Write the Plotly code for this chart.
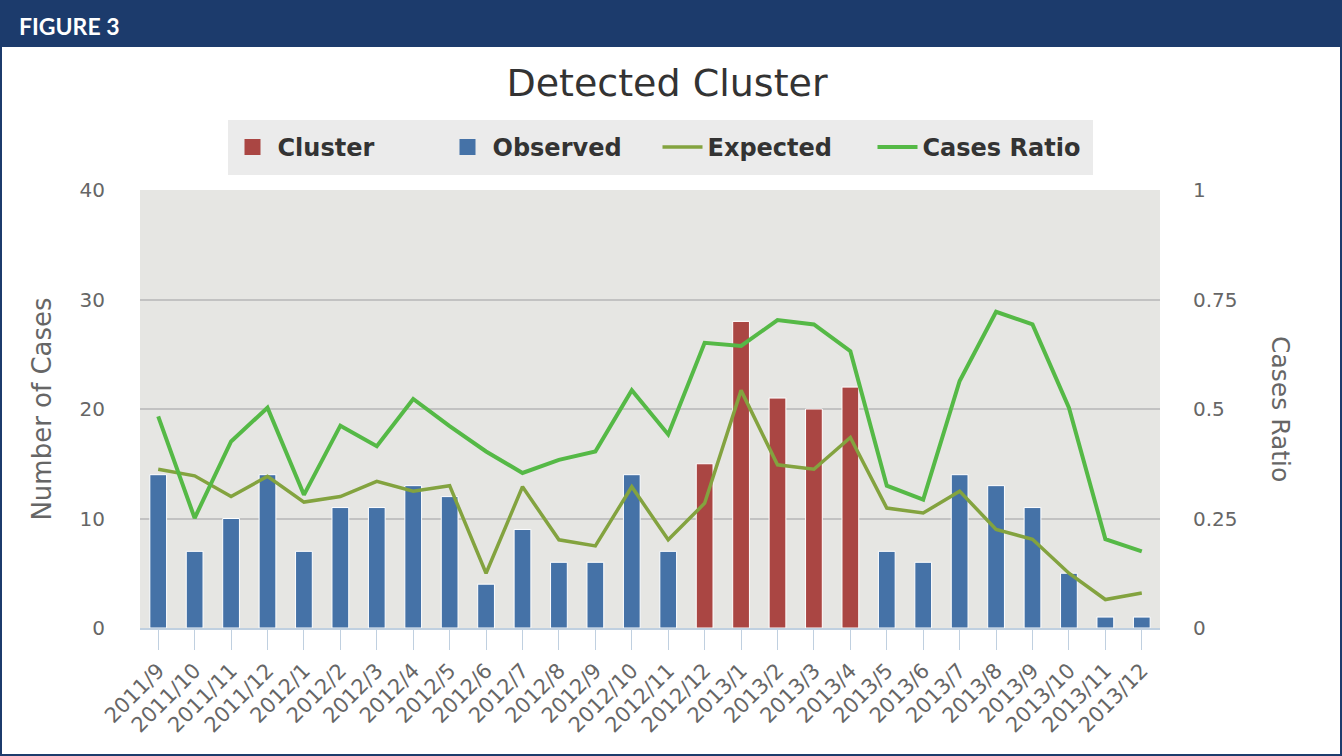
import plotly.graph_objects as go

months = ["2011/9", "2011/10", "2011/11", "2011/12", "2012/1", "2012/2", "2012/3",
          "2012/4", "2012/5", "2012/6", "2012/7", "2012/8", "2012/9", "2012/10",
          "2012/11", "2012/12", "2013/1", "2013/2", "2013/3", "2013/4", "2013/5",
          "2013/6", "2013/7", "2013/8", "2013/9", "2013/10", "2013/11", "2013/12"]

observed = [14, 7, 10, 14, 7, 11, 11, 13, 12, 4, 9, 6, 6, 14, 7,
            None, None, None, None, None, 7, 6, 14, 13, 11, 5, 1, 1]
cluster = [None] * 15 + [15, 28, 21, 20, 22] + [None] * 8
expected = [14.5, 13.9, 12.0, 13.85, 11.5, 12.0, 13.4, 12.5, 13.0, 5.0, 12.9,
            8.05, 7.5, 12.9, 8.05, 11.4, 21.7, 14.9, 14.5, 17.4, 10.95, 10.5,
            12.5, 9.0, 8.1, 5.0, 2.6, 3.2]
cases_ratio = [0.483, 0.251, 0.426, 0.503, 0.304, 0.462, 0.415, 0.523, 0.461,
               0.403, 0.354, 0.384, 0.403, 0.543, 0.442, 0.651, 0.644, 0.703,
               0.693, 0.632, 0.325, 0.293, 0.564, 0.722, 0.693, 0.503, 0.203,
               0.175]

W, H = 1342, 756
L, R, T, B = 140, 1160, 190, 628

def px_x(x):
    return (x - L) / (R - L)

def px_y(y):
    return (B - y) / (B - T)

FONT = "DejaVu Sans"
GREY = "#666666"
RED = "#AA4643"
BLUE = "#4572A7"
LEGEND_BG = "#EBEBEB"

fig = go.Figure()
fig.add_trace(go.Bar(name="Cluster", x=months, y=cluster, marker_color=RED,
                     marker_line=dict(color="white", width=1), width=0.46,
                     legendgroup="cluster", showlegend=False))
fig.add_trace(go.Bar(name="Observed", x=months, y=observed, marker_color=BLUE,
                     marker_line=dict(color="white", width=1), width=0.46,
                     legendgroup="observed", showlegend=False))
# legend entries for the bar series (larger square icons)
fig.add_trace(go.Scatter(name="Cluster", x=[None], y=[None], mode="markers",
                         marker=dict(symbol="square", size=16, color=RED),
                         legendgroup="cluster", hoverinfo="skip"))
fig.add_trace(go.Scatter(name="Observed", x=[None], y=[None], mode="markers",
                         marker=dict(symbol="square", size=16, color=BLUE),
                         legendgroup="observed", hoverinfo="skip"))
fig.add_trace(go.Scatter(name="Expected", x=months, y=expected, mode="lines",
                         line=dict(color="#83A33F", width=3.5)))
fig.add_trace(go.Scatter(name="Cases Ratio", x=months, y=cases_ratio, mode="lines",
                         yaxis="y2", line=dict(color="#55B946", width=4)))

shapes = [
    dict(type="rect", xref="paper", yref="paper", x0=px_x(0), x1=px_x(W),
         y0=px_y(47), y1=px_y(0), fillcolor="#1C3B6C", line=dict(width=0), layer="below"),
    dict(type="rect", xref="paper", yref="paper", x0=px_x(1), x1=px_x(W - 1),
         y0=px_y(H - 1), y1=px_y(1), line=dict(color="#1C3B6C", width=2),
         fillcolor="rgba(0,0,0,0)"),
]

annotations = [
    dict(text="<b>FIGURE 3</b>", x=px_x(17), y=px_y(26), xref="paper", yref="paper",
         xanchor="left", yanchor="middle", showarrow=False,
         font=dict(family="Lato", size=23, color="white")),
    dict(text="Cases Ratio", x=px_x(1281), y=0.5, xref="paper", yref="paper",
         xanchor="center", yanchor="middle", showarrow=False, textangle=90,
         font=dict(family=FONT, size=25, color=GREY)),
]

fig.update_layout(
    width=W, height=H,
    margin=dict(l=L, r=W - R, t=T, b=H - B),
    paper_bgcolor="white",
    plot_bgcolor="#E6E6E3",
    barmode="overlay",
    title=dict(text="Detected Cluster", x=px_x(667), xanchor="center", xref="paper",
               y=1 - 83 / H, yanchor="middle",
               font=dict(family=FONT, size=38, color="#333333")),
    legend=dict(orientation="h", x=px_x(660), xanchor="center", y=px_y(120), yanchor="top",
                bgcolor=LEGEND_BG, bordercolor=LEGEND_BG, borderwidth=5,
                font=dict(family=FONT, size=24, color="#333333", weight="bold"),
                itemwidth=40, entrywidth=160),
    xaxis=dict(type="category", tickangle=-45, showline=True, linecolor="#C0D0E0",
               linewidth=2, ticks="outside", ticklen=20, tickcolor="#C0D0E0",
               tickfont=dict(family=FONT, size=21, color=GREY), showgrid=False,
               range=[-0.5, 27.5]),
    yaxis=dict(range=[0, 40], dtick=10, showgrid=True, gridcolor="#C2C2C2", gridwidth=2,
               zeroline=False, tickfont=dict(family=FONT, size=20, color=GREY),
               ticklabelstandoff=34,
               title=dict(text="Number of Cases", font=dict(family=FONT, size=26, color=GREY),
                          standoff=20)),
    yaxis2=dict(range=[0, 1], dtick=0.25, overlaying="y", side="right", showgrid=False,
                zeroline=False, tickfont=dict(family=FONT, size=20, color=GREY),
                ticklabelstandoff=32, tickformat="~g"),
    shapes=shapes,
    annotations=annotations,
)

fig.write_html("out.html", config={"displayModeBar": False},
               post_script="document.body.style.margin='0';document.body.style.padding='0';")
